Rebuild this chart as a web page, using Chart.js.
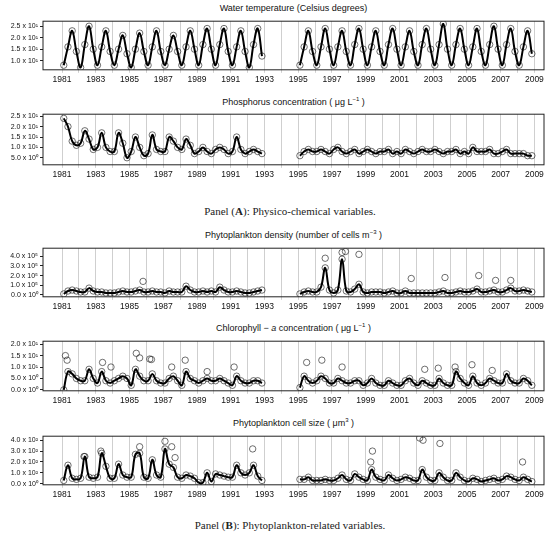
<!DOCTYPE html>
<html>
<head>
<meta charset="utf-8">
<script src="https://cdn.jsdelivr.net/npm/chart.js@4"></script>
<style>
  body { margin: 0; background: #fff; }
  #wrap { position: relative; width: 550px; height: 537px; font-family: "Liberation Sans", Arial, sans-serif; }
  .ttl { position: absolute; left: 43px; width: 501px; text-align: center; font-size: 9px; color: #111; }
  .cap { position: absolute; left: 0; width: 580px; text-align: center; font-family: "Liberation Serif", serif; font-size: 11px; color: #222; }
  .cv { position: absolute; left: 0; }
</style>
</head>
<body>
<div id="wrap">
  <div class="ttl" style="top:3px">Water temperature (Celsius degrees)</div>
  <div class="ttl" style="top:96px">Phosphorus concentration ( μg L<sup style="font-size:6px">−1</sup> )</div>
  <div class="cap" style="top:205px">Panel (<b>A</b>): Physico-chemical variables.</div>
  <div class="ttl" style="top:229px">Phytoplankton density (number of cells m<sup style="font-size:6px">−3</sup> )</div>
  <div class="ttl" style="top:322px">Chlorophyll − <i>a</i> concentration ( μg L<sup style="font-size:6px">−1</sup> )</div>
  <div class="ttl" style="top:417px">Phytoplankton cell size ( μm<sup style="font-size:6px">3</sup> )</div>
  <div class="cap" style="top:519px">Panel (<b>B</b>): Phytoplankton-related variables.</div>
  <div class="cv" style="top:15px"><canvas id="c1" width="550" height="72"></canvas></div>
  <div class="cv" style="top:108px"><canvas id="c2" width="550" height="74"></canvas></div>
  <div class="cv" style="top:242px"><canvas id="c3" width="550" height="72"></canvas></div>
  <div class="cv" style="top:335px"><canvas id="c4" width="550" height="73"></canvas></div>
  <div class="cv" style="top:430px"><canvas id="c5" width="550" height="72"></canvas></div>
</div>
<script>
// quarterly values, 1981-1992 and 1995-2008
const years1 = [1981,1982,1983,1984,1985,1986,1987,1988,1989,1990,1991,1992]
const years2 = [1995,1996,1997,1998,1999,2000,2001,2002,2003,2004,2005,2006,2007,2008]
const quarterOffsets = [0.1, 0.35, 0.6, 0.85]

const temp1 = [8,16,23,14, 7,17,25,15, 8,16,23,14, 8,15,21,13, 7,15,22,14, 8,16,23,14, 8,15,21,14, 8,16,23,15, 8,17,24,15, 8,17,24,14, 8,16,23,14, 7,17,24,12]
const temp2 = [8,16,23,14, 8,16,24,15, 8,16,23,14, 8,17,24,15, 8,16,23,14, 8,17,24,15, 8,16,23,14, 8,17,24,15, 8,17,26,15, 8,17,24,15, 8,16,24,14, 8,17,25,15, 8,17,24,14, 8,16,23,13]

const phos1 = [24,20,13,11, 12,18,14,9, 10,17,10,8, 8,17,12,5, 8,15,10,6, 7,16,9,8, 8,15,13,10, 9,14,11,7, 8,10,8,7, 9,10,9,7, 8,15,9,7, 8,9,8,7]
const phos2 = [6,8,9,8, 8,9,8,7, 9,10,8,7, 8,9,7,8, 9,8,7,8, 8,9,7,8, 7,9,8,7, 8,9,8,8, 9,8,7,8, 8,9,7,8, 7,10,8,8, 8,9,7,7, 8,9,7,7, 7,7,6,6]

const dens1 = [0.1,0.4,0.5,0.4, 0.3,0.3,0.7,0.4, 0.3,0.3,0.2,0.2, 0.2,0.3,0.4,0.3, 0.3,0.4,0.5,0.3, 0.3,0.4,0.3,0.3, 0.2,0.4,0.3,0.3, 0.3,0.9,0.5,0.3, 0.3,0.4,0.3,0.4, 0.3,0.8,0.5,0.3, 0.3,0.4,0.3,0.2, 0.2,0.3,0.4,0.5]
const dens2 = [0.1,0.3,0.4,0.3, 0.3,0.8,2.8,0.5, 0.2,0.5,3.7,0.4, 0.3,0.6,1.1,0.3, 0.2,0.3,0.3,0.3, 0.2,0.3,0.4,0.2, 0.2,0.4,0.2,0.2, 0.2,0.2,0.2,0.2, 0.2,0.3,0.4,0.2, 0.2,0.3,0.4,0.3, 0.3,0.4,0.6,0.3, 0.3,0.4,0.5,0.3, 0.3,0.5,0.7,0.4, 0.4,0.5,0.4,0.3]
const densOut = [[1985.8,1.4],[1996.6,3.8],[1997.6,4.4],[1997.8,4.5],[1998.6,4.2],[2001.7,1.7],[2003.7,1.8],[2005.7,2.0],[2006.7,1.5],[2007.6,1.5]]

const chl1 = [0,8,7,5, 4,4,9,5, 3,8,4,3, 4,5,6,5, 2,9,6,4, 4,7,4,3, 3,5,6,4, 2,8,5,4, 3,4,5,4, 4,5,4,3, 2,6,4,3, 3,4,4,3]
const chl2 = [1,6,4,3, 4,6,5,3, 3,5,4,3, 3,4,4,2, 3,5,3,2, 2,4,3,2, 2,4,5,3, 2,4,3,2, 2,5,3,2, 2,8,5,3, 2,6,3,2, 3,5,4,3, 3,7,4,3, 3,5,4,2]
const chlOut = [[1981.2,15],[1981.3,13],[1983.4,12],[1983.9,10],[1985.4,16],[1985.6,14],[1986.2,13.5],[1986.3,13.3],[1987.5,10],[1988.3,13],[1989.6,8],[1991.2,10],[1995.5,12],[1996.4,13],[1997.6,10],[2002.5,9],[2003.3,9.5],[2004.3,10],[2005.3,11],[2006.5,8.5]]

const size1 = [0.3,1.7,0.5,0.4, 0.5,2.5,0.6,0.5, 0.6,2.8,1.6,0.5, 0.5,1.8,0.8,0.6, 0.6,2.7,2.8,0.6, 0.5,2.2,0.8,0.6, 3.2,1.8,1.5,0.6, 0.5,0.8,0.7,0.5, 0.1,0.1,1.0,0.2, 0.9,0.8,0.7,0.6, 0.6,1.7,1.0,0.8, 1.0,1.7,0.7,0.3]
const size2 = [0.4,0.4,0.6,0.3, 0.3,0.3,0.4,0.3, 0.3,0.5,0.8,0.4, 0.3,0.9,0.6,0.4, 0.3,1.3,0.6,0.4, 0.3,0.8,0.5,0.3, 0.4,0.6,0.5,0.3, 0.3,1.3,0.6,0.3, 0.3,1.0,0.6,0.3, 0.3,1.0,0.6,0.3, 0.2,0.5,0.4,0.2, 0.3,0.4,0.5,0.3, 0.4,0.7,0.6,0.4, 0.3,0.6,0.4,0.2]
const sizeOut = [[1982.3,2.5],[1983.3,3.0],[1985.6,3.4],[1987.1,3.9],[1987.5,3.4],[1987.7,2.4],[1992.3,3.2],[1999.3,2.0],[1999.4,3.0],[2002.2,4.2],[2002.4,4.0],[2003.4,3.7],[2008.3,2.0]]

const sup = {'-':'⁻','0':'⁰','1':'¹','2':'²','3':'³','4':'⁴','5':'⁵','6':'⁶','7':'⁷','8':'⁸','9':'⁹'}

function sci(v, exp){
  if (v === 0) return '0.0 x 10⁰'
  let e = exp !== undefined ? exp : Math.floor(Math.log10(v))
  let m = (v / Math.pow(10, e)).toFixed(1)
  return m + ' x 10' + String(e).split('').map(c => sup[c]).join('')
}

function series(ys1, ys2, scale){
  const pts = []
  years1.forEach((yr, i) => quarterOffsets.forEach((q, j) => pts.push({x: yr + q, y: ys1[i*4+j] * scale})))
  pts.push({x: 1994, y: null})
  years2.forEach((yr, i) => quarterOffsets.forEach((q, j) => pts.push({x: yr + q, y: ys2[i*4+j] * scale})))
  return pts
}

const boxPlugin = {
  id: 'box',
  afterDraw(chart){
    const a = chart.chartArea, c = chart.ctx
    c.save()
    c.strokeStyle = '#222'
    c.lineWidth = 1
    c.strokeRect(a.left, a.top, a.right - a.left, a.bottom - a.top)
    c.restore()
  }
}

function makePanel(id, ys1, ys2, outliers, scale, yMin, yMax, yTicks, exp){
  const line = series(ys1, ys2, scale)
  const circles = line.filter(p => p.y !== null).concat(outliers.map(o => ({x: o[0], y: o[1] * scale})))
  new Chart(document.getElementById(id), {
    type: 'line',
    data: {
      datasets: [{
        data: line,
        borderColor: '#000',
        borderWidth: 2,
        pointRadius: 0,
        tension: 0.4,
        spanGaps: false
      }, {
        type: 'scatter',
        data: circles,
        showLine: false,
        pointRadius: 3.2,
        borderWidth: 0.8,
        borderColor: 'rgba(30,30,30,0.8)',
        backgroundColor: 'rgba(0,0,0,0)'
      }]
    },
    options: {
      responsive: false,
      animation: false,
      layout: { padding: { top: 2, right: 6, left: 0, bottom: 0 } },
      plugins: { legend: { display: false }, tooltip: { enabled: false } },
      scales: {
        x: {
          type: 'linear',
          min: 1979.87,
          max: 2009.57,
          afterBuildTicks: ax => { ax.ticks = []; for (let y = 1981; y <= 2009; y++) ax.ticks.push({value: y}) },
          ticks: {
            color: '#111',
            font: { size: 8.5, family: 'Liberation Sans' },
            maxRotation: 0,
            autoSkip: false,
            padding: 2,
            callback: v => (v % 2 === 1 ? String(v) : '')
          },
          grid: { color: '#cfcfcf', lineWidth: 1, drawTicks: true, tickLength: 3 },
          border: { display: false }
        },
        y: {
          min: yMin,
          max: yMax,
          afterBuildTicks: ax => { ax.ticks = yTicks.map(v => ({value: v * scale})) },
          afterFit: ax => { ax.width = 43 },
          ticks: {
            color: '#111',
            font: { size: 7, family: 'Liberation Sans' },
            padding: 2,
            callback: v => sci(v, v === 0 ? 0 : exp)
          },
          grid: { drawOnChartArea: false, color: '#222', tickLength: 3 },
          border: { display: false }
        }
      }
    },
    plugins: [boxPlugin]
  })
}

makePanel('c1', temp1, temp2, [], 1, 6, 27.2, [10, 15, 20, 25], 1)
makePanel('c2', phos1, phos2, [], 1, 1.6, 26, [5, 10, 15, 20, 25], undefined)
makePanel('c3', dens1, dens2, densOut, 1e5, -0.2e5, 4.84e5, [0, 1, 2, 3, 4], 5)
makePanel('c4', chl1, chl2, chlOut, 1, -0.4, 21.3, [0, 5, 10, 15, 20], undefined)
makePanel('c5', size1, size2, sizeOut, 100, -10, 437, [0, 1, 2, 3, 4], 2)
</script>
</body>
</html>
